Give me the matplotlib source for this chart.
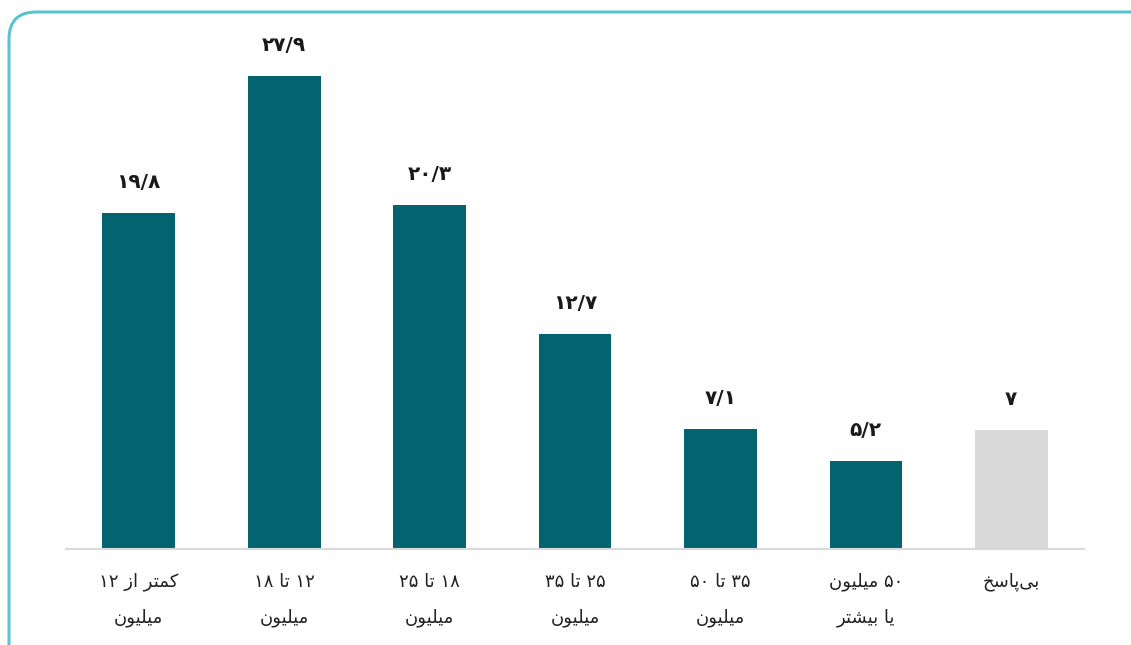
import matplotlib
matplotlib.use("Agg")
import matplotlib.pyplot as plt
from matplotlib.patches import FancyBboxPatch

# %% Data

categories = ["کمتر از ۱۲\nمیلیون", "۱۲ تا ۱۸\nمیلیون", "۱۸ تا ۲۵\nمیلیون", "۲۵ تا ۳۵\nمیلیون",
              "۳۵ تا ۵۰\nمیلیون", "۵۰ میلیون\nیا بیشتر", "بی\u200cپاسخ"]
values = [19.8, 27.9, 20.3, 12.7, 7.1, 5.2, 7.0]
value_labels = ["۱۹/۸", "۲۷/۹", "۲۰/۳", "۱۲/۷", "۷/۱", "۵/۲", "۷"]
bar_colors = ["#03646f"] * 6 + ["#d9d9d9"]

# %% Minimal Persian shaping (matplotlib has no bidi / joining support)

# isolated, final, initial, medial
forms = {
    "\u06a9": ("\ufb8e", "\ufb8f", "\ufb90", "\ufb91"),  # keheh
    "\u0645": ("\ufee1", "\ufee2", "\ufee3", "\ufee4"),  # meem
    "\u062a": ("\ufe95", "\ufe96", "\ufe97", "\ufe98"),  # teh
    "\u0631": ("\ufead", "\ufeae", None, None),          # reh
    "\u0627": ("\ufe8d", "\ufe8e", None, None),          # alef
    "\u0632": ("\ufeaf", "\ufeb0", None, None),          # zain
    "\u06cc": ("\ufbfc", "\ufbfd", "\ufbfe", "\ufbff"),  # farsi yeh
    "\u0644": ("\ufedd", "\ufede", "\ufedf", "\ufee0"),  # lam
    "\u0648": ("\ufeed", "\ufeee", None, None),          # waw
    "\u0646": ("\ufee5", "\ufee6", "\ufee7", "\ufee8"),  # noon
    "\u0628": ("\ufe8f", "\ufe90", "\ufe91", "\ufe92"),  # beh
    "\u0634": ("\ufeb5", "\ufeb6", "\ufeb7", "\ufeb8"),  # sheen
    "\u067e": ("\ufb56", "\ufb57", "\ufb58", "\ufb59"),  # peh
    "\u0633": ("\ufeb1", "\ufeb2", "\ufeb3", "\ufeb4"),  # seen
    "\u062e": ("\ufea5", "\ufea6", "\ufea7", "\ufea8"),  # khah
}


def shape_word(word):
    out = []
    for i, ch in enumerate(word):
        if ch not in forms:
            if ch != "\u200c":
                out.append(ch)
            continue
        prev = word[i - 1] if i > 0 else None
        nxt = word[i + 1] if i + 1 < len(word) else None
        joins_prev = prev in forms and forms[prev][2] is not None
        joins_next = nxt in forms and forms[ch][2] is not None
        iso, fin, ini, med = forms[ch]
        if joins_prev and joins_next:
            out.append(med)
        elif joins_prev:
            out.append(fin)
        elif joins_next:
            out.append(ini)
        else:
            out.append(iso)
    return out


def rtl(text):
    lines = []
    for line in text.split("\n"):
        tokens = []
        for word in line.split(" "):
            if any(c in forms for c in word):
                tokens.append("".join(reversed(shape_word(word))))
            else:
                tokens.append(word)
        lines.append(" ".join(reversed(tokens)))
    return "\n".join(lines)


# %% Figure

plt.rcParams['font.family'] = ['DejaVu Sans']

fig = plt.figure(figsize=(11.31, 6.45), dpi=100)
fig.set_facecolor('white')

# Card border (rounded top-left corner, runs off the right and bottom)
W, H = 1131, 645
card = FancyBboxPatch((9 / W, -0.2), 1.2, 0.2 + (645 - 12) / H,
                      boxstyle="round,pad=0,rounding_size=0.024",
                      transform=fig.transFigure, facecolor='none',
                      edgecolor='#5bc3cd', linewidth=2.2, mutation_aspect=W / H)
fig.patches.append(card)

ax = fig.add_axes([66 / W, (645 - 549) / H, 1018 / W, 508.6 / H])
x = list(range(len(values)))
bars = ax.bar(x, values, width=0.5, color=bar_colors, zorder=2)

for xi, v, lab in zip(x, values, value_labels):
    ax.annotate(lab, (xi, v), xytext=(0, 15), textcoords='offset points',
                ha='center', va='bottom', fontsize=14.5, fontweight='bold', color='#1a1a1a')

ax.set_xlim(-0.5, len(values) - 0.5)
ax.set_ylim(0, 30)
ax.set_xticks(x)
ax.set_xticklabels([rtl(c) for c in categories], fontsize=13, color='#222222',
                   linespacing=2.25, va='top')
ax.tick_params(axis='x', length=0, pad=17)
ax.set_yticks([])
for s in ['top', 'right', 'left']:
    ax.spines[s].set_visible(False)
ax.spines['bottom'].set_color('#d9d9d9')
ax.spines['bottom'].set_linewidth(1.5)
ax.set_facecolor('none')

fig.savefig("out.png", dpi=100)
